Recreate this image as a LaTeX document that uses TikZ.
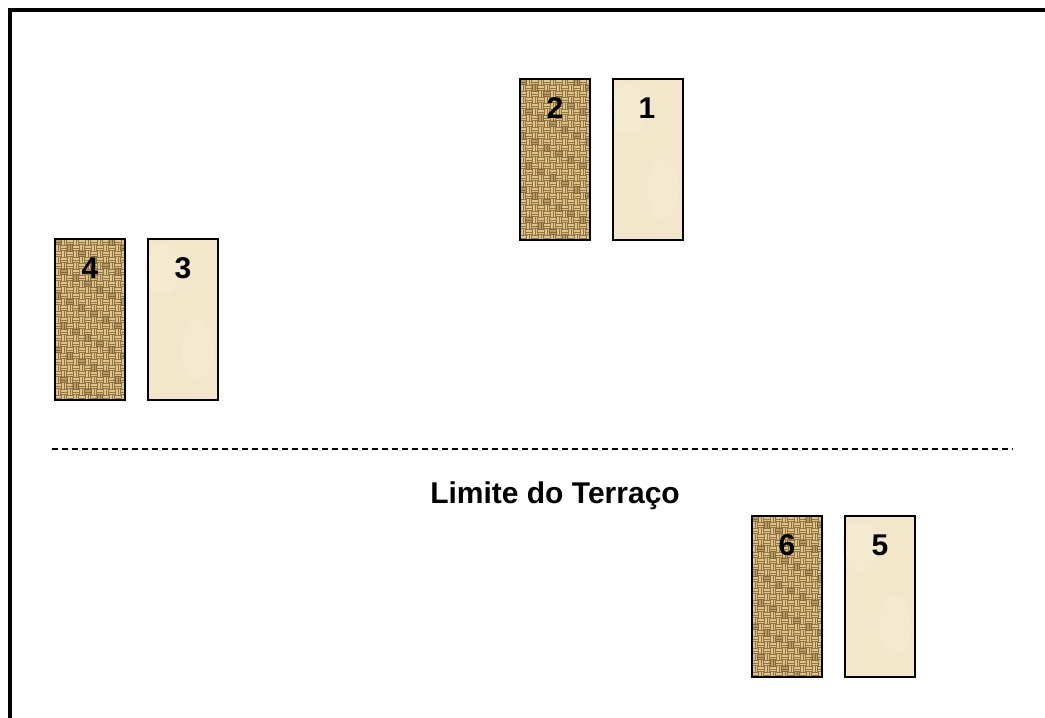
\documentclass[tikz,border=0pt]{standalone}
\usepackage{fontspec}
\setmainfont{Liberation Sans}
\definecolor{burlapbase}{HTML}{94743F}
\definecolor{burlapthread}{HTML}{DCC48F}
\definecolor{burlapdark}{HTML}{6E5226}
\definecolor{paper}{HTML}{F2E7CB}
\definecolor{paperlight}{HTML}{F5EDD6}
\newcommand\burlaptex[2]{%
  \begin{scope}
    \clip (#1,#2) rectangle ++(70,161);
    \fill[burlapbase] (#1,#2) rectangle ++(70,161);
    \foreach \i in {0,...,11}{
      \foreach \j in {0,...,26}{
        \pgfmathtruncatemacro\k{\i+\j}
        \pgfmathsetmacro\xx{#1+6*\i}
        \pgfmathsetmacro\yy{#2+6*\j}
        \ifodd\k
          \fill[burlapthread] (\xx+0.7,\yy) rectangle ++(1.9,6);
          \fill[burlapthread] (\xx+3.5,\yy) rectangle ++(1.9,6);
        \else
          \fill[burlapthread] (\xx,\yy+0.7) rectangle ++(6,1.9);
          \fill[burlapthread] (\xx,\yy+3.5) rectangle ++(6,1.9);
        \fi
        \pgfmathtruncatemacro\r{mod(\i*7+\j*13,9)}
        \ifnum\r=0
          \fill[burlapdark,opacity=0.35] (\xx+3,\yy+3) circle (4.5);
        \fi
      }
    }
  \end{scope}}
\newcommand\papertex[2]{%
  \fill[paper] (#1,#2) rectangle ++(70,161);
  \fill[paperlight,opacity=0.5] (#1+15,#2+30) ellipse (18 and 25);
  \fill[paperlight,opacity=0.5] (#1+50,#2+110) ellipse (16 and 30);
}
\tikzset{
  tile/.style={draw=black, line width=1.5pt, minimum width=70pt, minimum height=161pt,
    inner sep=0pt, outer sep=0pt, anchor=north west},
  num/.style={font=\fontsize{30}{32}\selectfont\bfseries, inner sep=0pt, anchor=base},
  frame/.style={line width=4pt, line cap=rect, line join=miter},
}
\begin{document}
\begin{tikzpicture}[x=1pt,y=-1pt]
\useasboundingbox (0,0) rectangle (1045,718);
\fill[white] (0,0) rectangle (1045,718);
% frame
\coordinate (fa) at (10,730);
\coordinate (fb) at (10,10);
\coordinate (fc) at (1060,10);
\draw[frame] (fa) -- (fb) -- (fc);
% textures
\burlaptex{520}{79}
\papertex{613}{79}
\burlaptex{55}{239}
\papertex{148}{239}
\burlaptex{752}{516}
\papertex{845}{516}
% tiles
\node[tile] (t2) at (520,79) {};
\node[tile] (t1) at (613,79) {};
\node[tile] (t4) at (55,239) {};
\node[tile] (t3) at (148,239) {};
\node[tile] (t6) at (752,516) {};
\node[tile] (t5) at (845,516) {};
\node[num] (n2) at ([yshift=-39pt]t2.north) {2};
\node[num] (n1) at ([yshift=-39pt,xshift=-1pt]t1.north) {1};
\node[num] (n4) at ([yshift=-39pt]t4.north) {4};
\node[num] (n3) at ([yshift=-39pt]t3.north) {3};
\node[num] (n6) at ([yshift=-39pt]t6.north) {6};
\node[num] (n5) at ([yshift=-39pt]t5.north) {5};
% dashed limit line
\coordinate (da) at (52,449);
\coordinate (db) at (1013,449);
\draw[line width=2pt, dash pattern=on 6pt off 4pt] (da) -- (db);
\node[num] (lim) at (555,503) {Limite do Terraço};
\end{tikzpicture}
\end{document}
